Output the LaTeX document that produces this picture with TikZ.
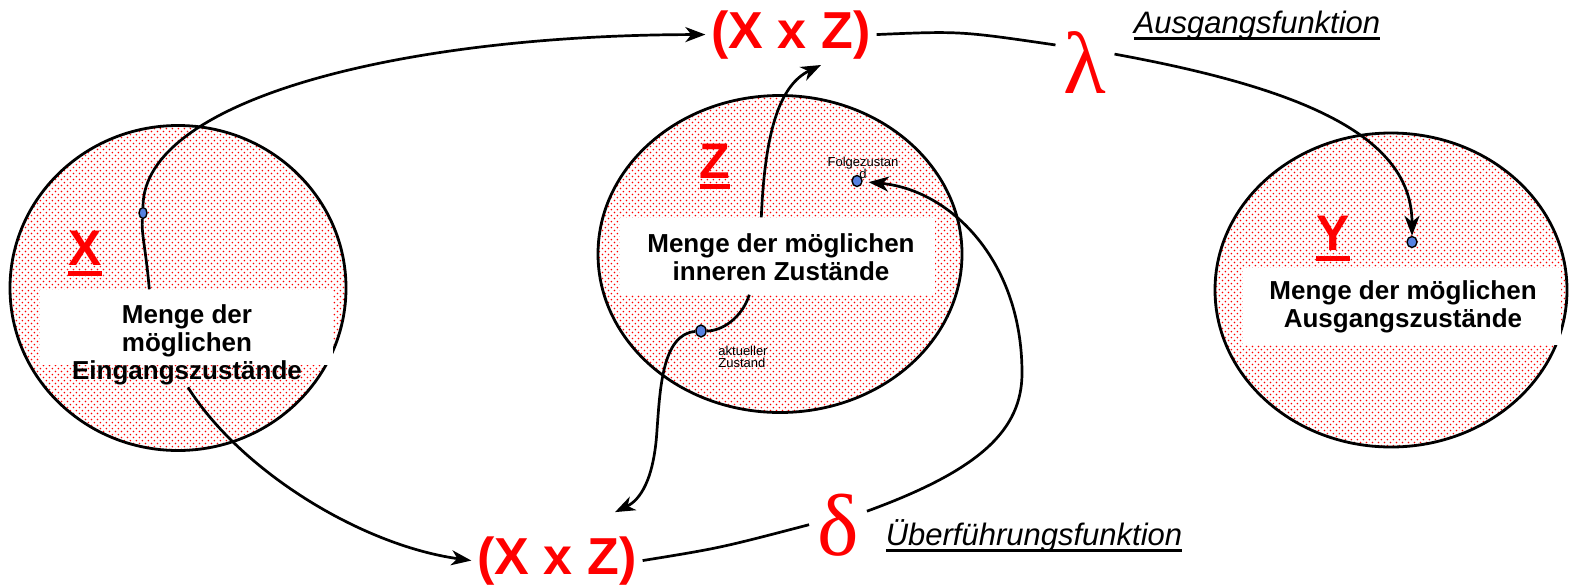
\documentclass[tikz,border=0pt]{standalone}
\usepackage{fontspec}
\setmainfont{Liberation Sans}
\newfontfamily\greekserif{Liberation Serif}
\usetikzlibrary{arrows.meta,shapes.geometric,patterns.meta}
\definecolor{dotblue}{RGB}{85,130,225}
\newcommand{\thickul}[3]{\setbox0=\hbox{#3}\rlap{\raisebox{-#2}{\rule{\wd0}{#1}}}\box0}
\tikzdeclarepattern{
  name=reddots,
  type=uncolored,
  bounding box={(0pt,0pt) and (6.4pt,6.4pt)},
  tile size={(6.4pt,6.4pt)},
  code={
    \pgfpathcircle{\pgfpoint{1.6pt}{1.6pt}}{0.95pt}
    \pgfpathcircle{\pgfpoint{4.8pt}{4.8pt}}{0.95pt}
    \pgfusepath{fill}
  }
}
\tikzset{
  setellipse/.style={ellipse, draw, line width=2.8pt, pattern=reddots, pattern color=red, inner sep=0pt},
  setbox/.style={fill=white, inner sep=0pt},
  settext/.style={inner sep=0pt, align=center, font=\fontsize{26}{28}\selectfont\bfseries},
  setname/.style={anchor=base, text=red, font=\fontsize{50}{50}\selectfont\bfseries},
  productlabel/.style={anchor=base, text=red, inner sep=6pt, font=\fontsize{52}{52}\selectfont\bfseries},
  funcsymbol/.style={anchor=base, text=red, inner sep=8pt, font=\fontsize{88}{88}\selectfont\greekserif},
  funcname/.style={anchor=base, inner sep=0pt, font=\fontsize{31}{31}\selectfont\itshape},
  statedot/.style={ellipse, draw, fill=dotblue, line width=1.4pt, inner sep=0pt, minimum width=10pt, minimum height=11pt},
  smalltext/.style={inner sep=0pt, font=\fontsize{13}{12.5}\selectfont},
  flowline/.style={line width=2.7pt},
  flowarrow/.style={line width=2.7pt, -{Stealth[length=20pt, width=15pt, inset=6pt]}}
}

\begin{document}
\begin{tikzpicture}[x=1pt, y=-1pt]
  \useasboundingbox (0,0) rectangle (1578,584);

  % the three sets
  \node[setellipse, minimum width=336pt, minimum height=325pt] (setX) at (178,288) {};
  \node[setellipse, minimum width=364pt, minimum height=317pt] (setZ) at (780,254) {};
  \node[setellipse, minimum width=352pt, minimum height=314pt] (setY) at (1391,290) {};

  \node[setbox, minimum width=293pt, minimum height=75pt] (boxX) at (186,327) {};
  \node[setbox, minimum width=315pt, minimum height=77pt] (boxZ) at (777,256) {};
  \node[setbox, minimum width=318pt, minimum height=77pt] (boxY) at (1402,306) {};
  \node[settext] (textX) at (187,345) {Menge der\\möglichen\\Eingangszustände};
  \node[settext] (textZ) at (781,257) {Menge der möglichen\\inneren Zustände};
  \node[settext] (textY) at (1403,307) {Menge der möglichen\\Ausgangszustände};

  \node[setname] (nameX) at (85,265) {\thickul{5pt}{11pt}{X}};
  \node[setname] (nameZ) at (715,178) {\thickul{5pt}{11pt}{Z}};
  \node[setname] (nameY) at (1333,250) {\thickul{5pt}{11pt}{Y}};

  % products and functions
  \node[productlabel] (xzTop) at (791,48) {(X x Z)};
  \node[productlabel] (xzBot) at (557,574) {(X x Z)};
  \node[funcsymbol] (lam) at (1085,93) {λ};
  \node[funcsymbol] (del) at (838,555) {δ};
  \node[funcname] (outName) at (1257,33) {\thickul{3pt}{7pt}{Ausgangsfunktion}};
  \node[funcname] (transName) at (1034,545) {\thickul{3pt}{7pt}{Überführungsfunktion}};

  % states
  \node[smalltext, align=center] (fLabel) at (863,168) {Folgezustan\\d};
  \node[smalltext, align=left] (aLabel) at (743,357) {aktueller\\Zustand};
  \node[statedot, minimum width=8pt] (xdot) at (143,213) {};
  \node[statedot] (fdot) at (857,181) {};
  \node[statedot, minimum height=12pt] (adot) at (701,331) {};
  \node[statedot] (ydot) at (1412,242) {};

  % connectors
  \draw[flowline] ([xshift=110pt]boxX.north west) .. controls (146,250) and (141,232) .. (xdot);
  \draw[flowarrow] (xdot) .. controls (143,100) and (400,35) .. (xzTop.west);
  \draw[flowarrow] ([xshift=1pt,yshift=-2pt]textX.south) .. controls (240,470) and (360,545) .. (xzBot.west);
  \draw[flowline] (xzTop.east) .. controls (960,31) .. (lam.150);
  \draw[flowarrow] (lam.15) .. controls (1300,88) and (1412,135) .. (ydot);
  \draw[flowline] (xzBot.east) .. controls (720,548) .. (del.west);
  \draw[flowarrow, shorten >=6pt] (del.25) .. controls (980,470) and (1022,430) .. (1022,373)
    .. controls (1022,260) and (950,190) .. (fdot);
  \draw[flowarrow] ([xshift=142pt]boxZ.north west) .. controls (765,130) and (780,85) .. ([xshift=30pt]xzTop.south);
  \draw[flowline] ([xshift=130pt]boxZ.south west) .. controls (742,318) and (722,331) .. (adot);
  \draw[flowarrow] (adot) .. controls (662,334) and (660,390) .. (657,430)
    .. controls (654,480) and (640,500) .. ([xshift=58pt,yshift=18pt]xzBot.north);
\end{tikzpicture}
\end{document}
